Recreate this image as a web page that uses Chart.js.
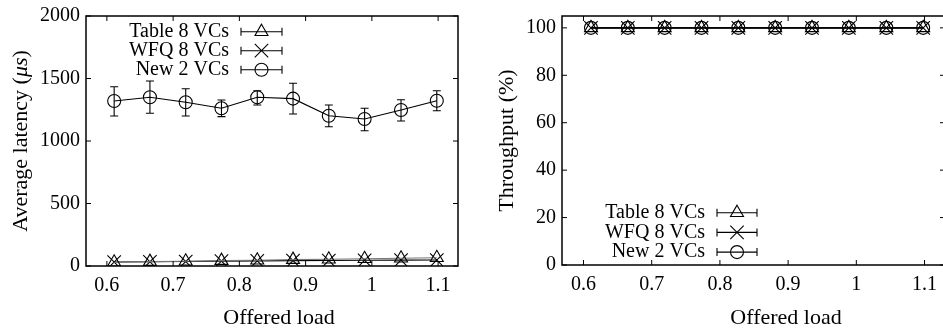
<!DOCTYPE html>
<html>
<head>
<meta charset="utf-8">
<script src="https://cdn.jsdelivr.net/npm/chart.js"></script>
<style>
html, body { margin: 0; padding: 0; background: #fff; overflow: hidden; width: 943px; height: 332px; }
#left { position: absolute; left: 0; top: 0; }
#right { position: absolute; left: 470px; top: 0; }
</style>
</head>
<body>
<canvas id="left" width="470" height="332"></canvas>
<canvas id="right" width="500" height="332"></canvas>
<script>
// data
var loads = [0.611, 0.665, 0.719, 0.773, 0.827, 0.881, 0.935, 0.989, 1.044, 1.098];
var xTicks = [0.6, 0.7, 0.8, 0.9, 1, 1.1];
var latencyTicks = [0, 500, 1000, 1500, 2000];
var throughputTicks = [0, 20, 40, 60, 80, 100];
var seriesNames = ['Table 8 VCs', 'WFQ 8 VCs', 'New 2 VCs'];

var latTable = [30, 35, 38, 43, 46, 51, 54, 58, 62, 66];
var latWfq = [32, 34, 36, 39, 41, 43, 44, 46, 47, 48];
var latNew = [1320, 1350, 1310, 1262, 1350, 1339, 1202, 1176, 1248, 1322];
var latNewLo = [1200, 1222, 1200, 1195, 1288, 1216, 1114, 1082, 1160, 1242];
var latNewHi = [1434, 1480, 1418, 1328, 1402, 1462, 1288, 1262, 1330, 1402];

var thrTable = [100, 100, 100, 100, 100, 100, 100, 100, 100, 100];
var thrWfq = [100, 100, 100, 100, 100, 100, 100, 100, 100, 100];
var thrNew = [100, 100, 100, 100, 100, 100, 100, 100, 100, 100];

var FONT = "'Liberation Serif', 'Times New Roman', serif";
Chart.defaults.font.family = FONT;
Chart.defaults.font.size = 20;
Chart.defaults.color = '#000';

function pts(vals) {
	return loads.map(function(x, i) { return { x: x, y: vals[i] }; });
}

var markers = [
	{ style: 'triangle', radius: 7.5 },
	{ style: 'crossRot', radius: 9.5 },
	{ style: 'circle', radius: 6.5 }
];

function makeDatasets(lists, lineColors) {
	return lists.map(function(vals, i) {
		return {
			label: seriesNames[i],
			data: pts(vals),
			borderColor: lineColors[i],
			borderWidth: 1.2,
			tension: 0,
			pointStyle: markers[i].style,
			pointRadius: markers[i].radius,
			pointBorderColor: '#000',
			pointBorderWidth: 1.1,
			pointBackgroundColor: 'rgba(0,0,0,0)'
		};
	});
}

// frame, inward ticks, error bars, titles and legend the gnuplot way
var gnuplotLook = {
	id: 'gnuplotLook',
	afterDatasetsDraw: function(chart) {
		var ctx = chart.ctx, ys = chart.scales.y;
		ctx.save();
		ctx.strokeStyle = '#000';
		ctx.lineWidth = 1.1;
		chart.data.datasets.forEach(function(ds, i) {
			if (!ds.errLo) return;
			var meta = chart.getDatasetMeta(i);
			meta.data.forEach(function(p, j) {
				var y1 = ys.getPixelForValue(ds.errLo[j]);
				var y2 = ys.getPixelForValue(ds.errHi[j]);
				ctx.beginPath();
				ctx.moveTo(p.x, y1); ctx.lineTo(p.x, y2);
				ctx.moveTo(p.x - 4, y1); ctx.lineTo(p.x + 4, y1);
				ctx.moveTo(p.x - 4, y2); ctx.lineTo(p.x + 4, y2);
				ctx.stroke();
			});
		});
		ctx.restore();
	},
	afterDraw: function(chart, args, opts) {
		var ctx = chart.ctx, a = chart.chartArea;
		var xs = chart.scales.x, ys = chart.scales.y;
		ctx.save();
		ctx.strokeStyle = '#000';
		ctx.fillStyle = '#000';

		// ticks
		ctx.lineWidth = 1;
		ctx.beginPath();
		xTicks.forEach(function(v) {
			var px = xs.getPixelForValue(v);
			ctx.moveTo(px, a.bottom); ctx.lineTo(px, a.bottom - 5);
			ctx.moveTo(px, a.top); ctx.lineTo(px, a.top + 5);
		});
		opts.yTicks.forEach(function(v) {
			var py = ys.getPixelForValue(v);
			ctx.moveTo(a.left, py); ctx.lineTo(a.left + 5, py);
			ctx.moveTo(a.right, py); ctx.lineTo(a.right - 5, py);
		});
		ctx.stroke();

		// frame
		ctx.lineWidth = 1.5;
		ctx.strokeRect(a.left, a.top, a.right - a.left, a.bottom - a.top);

		// x title
		ctx.font = '22px ' + FONT;
		ctx.textAlign = 'center';
		ctx.textBaseline = 'alphabetic';
		ctx.fillText('Offered load', opts.xTitleX, 324);

		// y title, with italic parts
		ctx.save();
		ctx.translate(opts.yTitleX, (a.top + a.bottom) / 2);
		ctx.rotate(-Math.PI / 2);
		ctx.textBaseline = 'middle';
		ctx.textAlign = 'left';
		var total = 0;
		opts.yTitle.forEach(function(part) {
			ctx.font = (part.italic ? 'italic ' : '') + '22px ' + FONT;
			total += ctx.measureText(part.text).width;
		});
		var tx = -total / 2;
		opts.yTitle.forEach(function(part) {
			ctx.font = (part.italic ? 'italic ' : '') + '22px ' + FONT;
			ctx.fillText(part.text, tx, 0);
			tx += ctx.measureText(part.text).width;
		});
		ctx.restore();

		// legend
		var lg = opts.legend;
		ctx.font = '20px ' + FONT;
		ctx.textAlign = 'right';
		ctx.textBaseline = 'middle';
		chart.data.datasets.forEach(function(ds, i) {
			var cy = lg.top + i * lg.step;
			ctx.fillText(ds.label, lg.textRight, cy);
			ctx.lineWidth = 1.1;
			ctx.beginPath();
			ctx.moveTo(lg.sampleLeft, cy); ctx.lineTo(lg.sampleRight, cy);
			ctx.moveTo(lg.sampleLeft, cy - 4); ctx.lineTo(lg.sampleLeft, cy + 4);
			ctx.moveTo(lg.sampleRight, cy - 4); ctx.lineTo(lg.sampleRight, cy + 4);
			ctx.stroke();
			ctx.fillStyle = 'rgba(0,0,0,0)';
			Chart.helpers.drawPoint(ctx, {
				pointStyle: ds.pointStyle, radius: ds.pointRadius, rotation: 0, borderWidth: 1.1
			}, (lg.sampleLeft + lg.sampleRight) / 2, cy);
			ctx.fillStyle = '#000';
		});
		ctx.restore();
	}
};

function makeChart(id, datasets, yMax, yTicks, sizes, look) {
	return new Chart(document.getElementById(id), {
		type: 'line',
		data: { datasets: datasets },
		plugins: [gnuplotLook],
		options: {
			responsive: false,
			animation: false,
			layout: { padding: { left: 0, top: 16, right: sizes.padRight, bottom: 0 } },
			plugins: {
				legend: { display: false },
				tooltip: { enabled: false },
				gnuplotLook: look
			},
			scales: {
				x: {
					type: 'linear',
					min: 0.5685,
					max: 1.13,
					grid: { display: false, drawTicks: false },
					border: { display: false },
					afterBuildTicks: function(s) { s.ticks = xTicks.map(function(v) { return { value: v }; }); },
					afterFit: function(s) {
						s.height = sizes.xHeight;
						s.paddingLeft = 0;
						s.paddingRight = 0;
					},
					ticks: { padding: 8, maxRotation: 0, callback: function(v) { return String(v); } }
				},
				y: {
					min: 0,
					max: yMax,
					grid: { display: false, drawTicks: false },
					border: { display: false },
					afterBuildTicks: function(s) { s.ticks = yTicks.map(function(v) { return { value: v }; }); },
					afterFit: function(s) {
						s.width = sizes.yWidth;
						s.paddingTop = 0;
						s.paddingBottom = 0;
					},
					ticks: { padding: 6, callback: function(v) { return String(v); } }
				}
			}
		}
	});
}

var leftSets = makeDatasets([latTable, latWfq, latNew], ['#777', '#000', '#000']);
leftSets[2].errLo = latNewLo;
leftSets[2].errHi = latNewHi;

makeChart('left', leftSets, 2000, latencyTicks,
	{ padRight: 12, xHeight: 66, yWidth: 86 },
	{
		yTicks: latencyTicks,
		xTitleX: 279,
		yTitleX: 21,
		yTitle: [{ text: 'Average latency (' }, { text: '\u03bcs', italic: true }, { text: ')' }],
		legend: { textRight: 229, sampleLeft: 241, sampleRight: 282, top: 31.7, step: 19 }
	});

makeChart('right', makeDatasets([thrTable, thrWfq, thrNew], ['#000', '#000', '#000']), 105, throughputTicks,
	{ padRight: 25, xHeight: 67, yWidth: 92 },
	{
		yTicks: throughputTicks,
		xTitleX: 316,
		yTitleX: 37,
		yTitle: [{ text: 'Throughput (%)' }],
		legend: { textRight: 235, sampleLeft: 247, sampleRight: 287, top: 212.7, step: 19.7 }
	});
</script>
</body>
</html>
